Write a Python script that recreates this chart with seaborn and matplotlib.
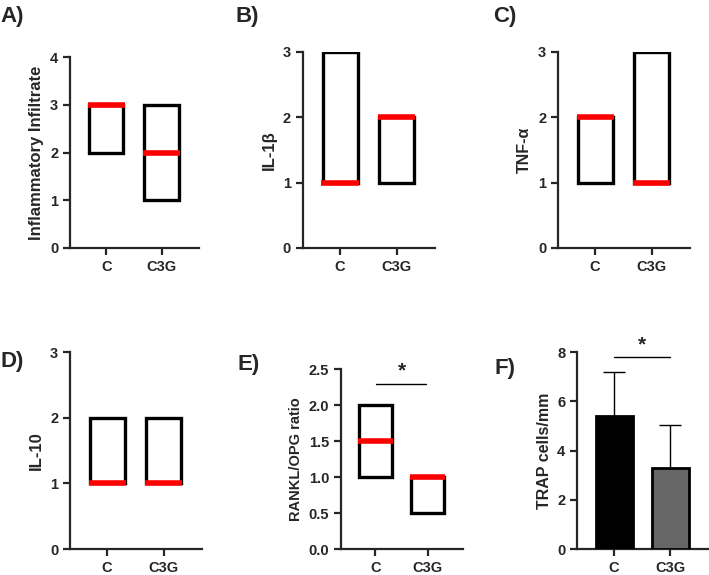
import numpy as np
import seaborn as sns
import matplotlib.pyplot as plt

# --- data ---
GROUPS = ['C', 'C3G']

# floating boxes: min, max, median per group
INFL_LOW = [2, 1]
INFL_HIGH = [3, 3]
INFL_MED = [3, 2]

IL1B_LOW = [1, 1]
IL1B_HIGH = [3, 2]
IL1B_MED = [1, 2]

TNF_LOW = [1, 1]
TNF_HIGH = [2, 3]
TNF_MED = [2, 1]

IL10_LOW = [1, 1]
IL10_HIGH = [2, 2]
IL10_MED = [1, 1]

RANKL_LOW = [1.0, 0.5]
RANKL_HIGH = [2.0, 1.0]
RANKL_MED = [1.5, 1.0]

TRAP_MEAN = [5.4, 3.3]
TRAP_SD = [1.8, 1.75]

sns.set_style("ticks")
plt.rcParams['font.family'] = ['Liberation Sans', 'DejaVu Sans']
plt.rcParams['font.weight'] = 'bold'
plt.rcParams['axes.labelweight'] = 'bold'

BOX_W = 0.62
XLIM = (-0.66, 1.68)

fig = plt.figure(figsize=(7.09, 5.75), dpi=100)


def style_axis(ax, ylim, yticks, ylabel, lsize, yfmt=None):
    ax.set_xlim(*XLIM)
    ax.set_ylim(*ylim)
    ax.set_yticks(yticks)
    if yfmt:
        ax.set_yticklabels([yfmt.format(t) for t in yticks])
    ax.set_ylabel(ylabel, fontsize=lsize, fontweight='bold')
    ax.set_xlabel('')
    sns.despine(ax=ax)
    for s in ['left', 'bottom']:
        ax.spines[s].set_linewidth(1.6)
    ax.tick_params(width=1.6, length=5, labelsize=10.5)
    for lab in ax.get_xticklabels() + ax.get_yticklabels():
        lab.set_fontweight('bold')


def float_panel(rect, low, high, med, ylim, yticks, ylabel, lsize, yfmt=None):
    ax = fig.add_axes(rect)
    heights = np.array(high) - np.array(low)
    sns.barplot(x=GROUPS, y=heights, bottom=low, color='white', edgecolor='black',
                linewidth=2.4, width=BOX_W, errorbar=None, ax=ax)
    xs = np.arange(len(GROUPS))
    ax.hlines(med, xs - BOX_W / 2 - 0.02, xs + BOX_W / 2 + 0.02, color='#ff0000',
              linewidth=4, zorder=5)
    style_axis(ax, ylim, yticks, ylabel, lsize, yfmt)
    return ax


axA = float_panel([0.0987, 0.5687, 0.182, 0.332], INFL_LOW, INFL_HIGH, INFL_MED,
                  (0, 4), [0, 1, 2, 3, 4], 'Inflammatory Infiltrate', 12)
axB = float_panel([0.427, 0.5687, 0.1866, 0.341], IL1B_LOW, IL1B_HIGH, IL1B_MED,
                  (0, 3), [0, 1, 2, 3], 'IL-1β', 12)
axC = float_panel([0.787, 0.5687, 0.186, 0.341], TNF_LOW, TNF_HIGH, TNF_MED,
                  (0, 3), [0, 1, 2, 3], 'TNF-α', 11.5)
axD = float_panel([0.0987, 0.0452, 0.186, 0.3426], IL10_LOW, IL10_HIGH, IL10_MED,
                  (0, 3), [0, 1, 2, 3], 'IL-10', 12)
axE = float_panel([0.481, 0.0452, 0.172, 0.313], RANKL_LOW, RANKL_HIGH, RANKL_MED,
                  (0, 2.5), [0, 0.5, 1.0, 1.5, 2.0, 2.5], 'RANKL/OPG ratio', 10.5, '{:.1f}')
axE.plot([0.02, 0.98], [2.29, 2.29], color='black', linewidth=1)
axE.text(0.5, 2.34, '*', ha='center', va='bottom', fontsize=15, fontweight='bold')

# F: mean +/- SD bars
axF = fig.add_axes([0.814, 0.0452, 0.185, 0.3426])
sns.barplot(x=GROUPS, y=TRAP_MEAN, hue=GROUPS, palette=['black', '#666666'],
            edgecolor='black', linewidth=2, width=0.66, errorbar=None, legend=False,
            ax=axF, zorder=3)
axF.errorbar(np.arange(len(GROUPS)), TRAP_MEAN, yerr=TRAP_SD, fmt='none',
             ecolor='black', elinewidth=1, capsize=8, capthick=1, zorder=2)
style_axis(axF, (0, 8), [0, 2, 4, 6, 8], 'TRAP cells/mm', 11.5)
axF.plot([0, 1], [7.8, 7.8], color='black', linewidth=1, clip_on=False)
axF.text(0.5, 7.9, '*', ha='center', va='bottom', fontsize=15, fontweight='bold')

# panel letters
for lab, x, y in [('A)', 0.0, 0.99), ('B)', 0.332, 0.99), ('C)', 0.695, 0.99),
                  ('D)', 0.0, 0.39), ('E)', 0.335, 0.385), ('F)', 0.697, 0.377)]:
    fig.text(x, y, lab, fontsize=16, fontweight='bold', va='top', ha='left')

fig.savefig('out.png', dpi=100)
